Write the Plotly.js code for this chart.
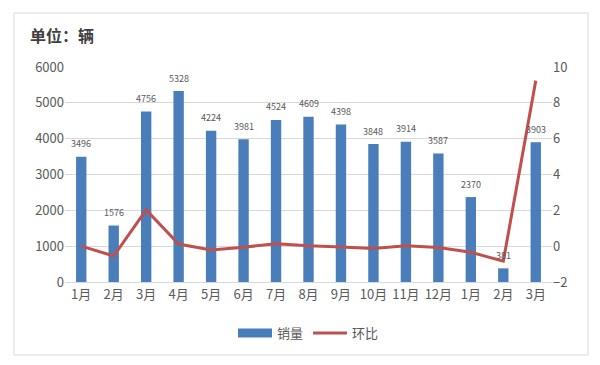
<!DOCTYPE html>
<html><head><meta charset="utf-8">
<script src="https://cdn.plot.ly/plotly-3.0.1.min.js"></script>
<style>html,body{margin:0;padding:0;background:#fff;}#chart{width:600px;height:365px;}</style>
</head><body><div id="chart"></div>
<script>
const months = ["1月","2月","3月","4月","5月","6月","7月","8月","9月","10月","11月","12月","1月","2月","3月"];
const sales = [3496,1576,4756,5328,4224,3981,4524,4609,4398,3848,3914,3587,2370,381,3903];
const ratio = [0,-0.55,2.02,0.12,-0.21,-0.06,0.14,0.02,-0.05,-0.13,0.02,-0.08,-0.34,-0.84,9.24];
const xs = months.map((m,i)=>i);

const font = "'Microsoft YaHei','Noto Sans CJK SC','Noto Sans',sans-serif";
const data = [
  {type:'bar', name:'销量', x:xs, y:sales, marker:{color:'#4a7ebb'}, showlegend:false, width:0.32},
  {type:'scatter', mode:'lines', name:'销量', x:[null], y:[null], line:{color:'#4a7ebb',width:9}},
  {type:'scatter', mode:'lines', name:'环比', x:xs, y:ratio, yaxis:'y2',
   line:{color:'#c0504d',width:3}}
];
const annotations = xs.map(i=>({x:i, y:sales[i], xref:'x', yref:'y', text:String(sales[i]),
  showarrow:false, yshift:13, font:{size:9,color:'#595959',family:font}}));
const layout = {
  width:600, height:365,
  margin:{l:65,r:48,t:67,b:83},
  paper_bgcolor:'#ffffff', plot_bgcolor:'rgba(0,0,0,0)',
  font:{family:font,color:'#595959',size:13},
  title:{text:'单位：辆', x:0.05, xanchor:'left', xref:'container', y:0.9, yref:'container', yanchor:'middle',
    font:{size:16,color:'#404040',family:font, weight:'bold'}},
  showlegend:true,
  legend:{orientation:'h', x:0.5, xanchor:'center', y:-0.237, yanchor:'middle',
    font:{size:13,color:'#595959'}, traceorder:'normal', itemwidth:34},
  annotations: annotations,
  xaxis:{tickvals:xs, ticktext:months, range:[-0.5,14.5], showgrid:false, zeroline:false,
    showline:true, linecolor:'#d9d9d9', ticks:'', tickfont:{size:13,color:'#595959'}},
  yaxis:{range:[0,6000], dtick:1000, gridcolor:'#d9d9d9', zeroline:false, ticks:'',
    tickfont:{size:13,color:'#595959'}},
  yaxis2:{range:[-2,10], dtick:2, overlaying:'y', side:'right', showgrid:false, zeroline:false,
    ticks:'', tickfont:{size:13,color:'#595959'}},
  shapes:[{type:'rect', xref:'paper', yref:'paper', x0:-0.1047, x1:1.0739, y0:-0.3395, y1:1.2512,
    line:{color:'#d9d9d9',width:1}, fillcolor:'rgba(0,0,0,0)', layer:'below'}]
};
Plotly.newPlot('chart', data, layout, {displayModeBar:false, staticPlot:true});
</script></body></html>
